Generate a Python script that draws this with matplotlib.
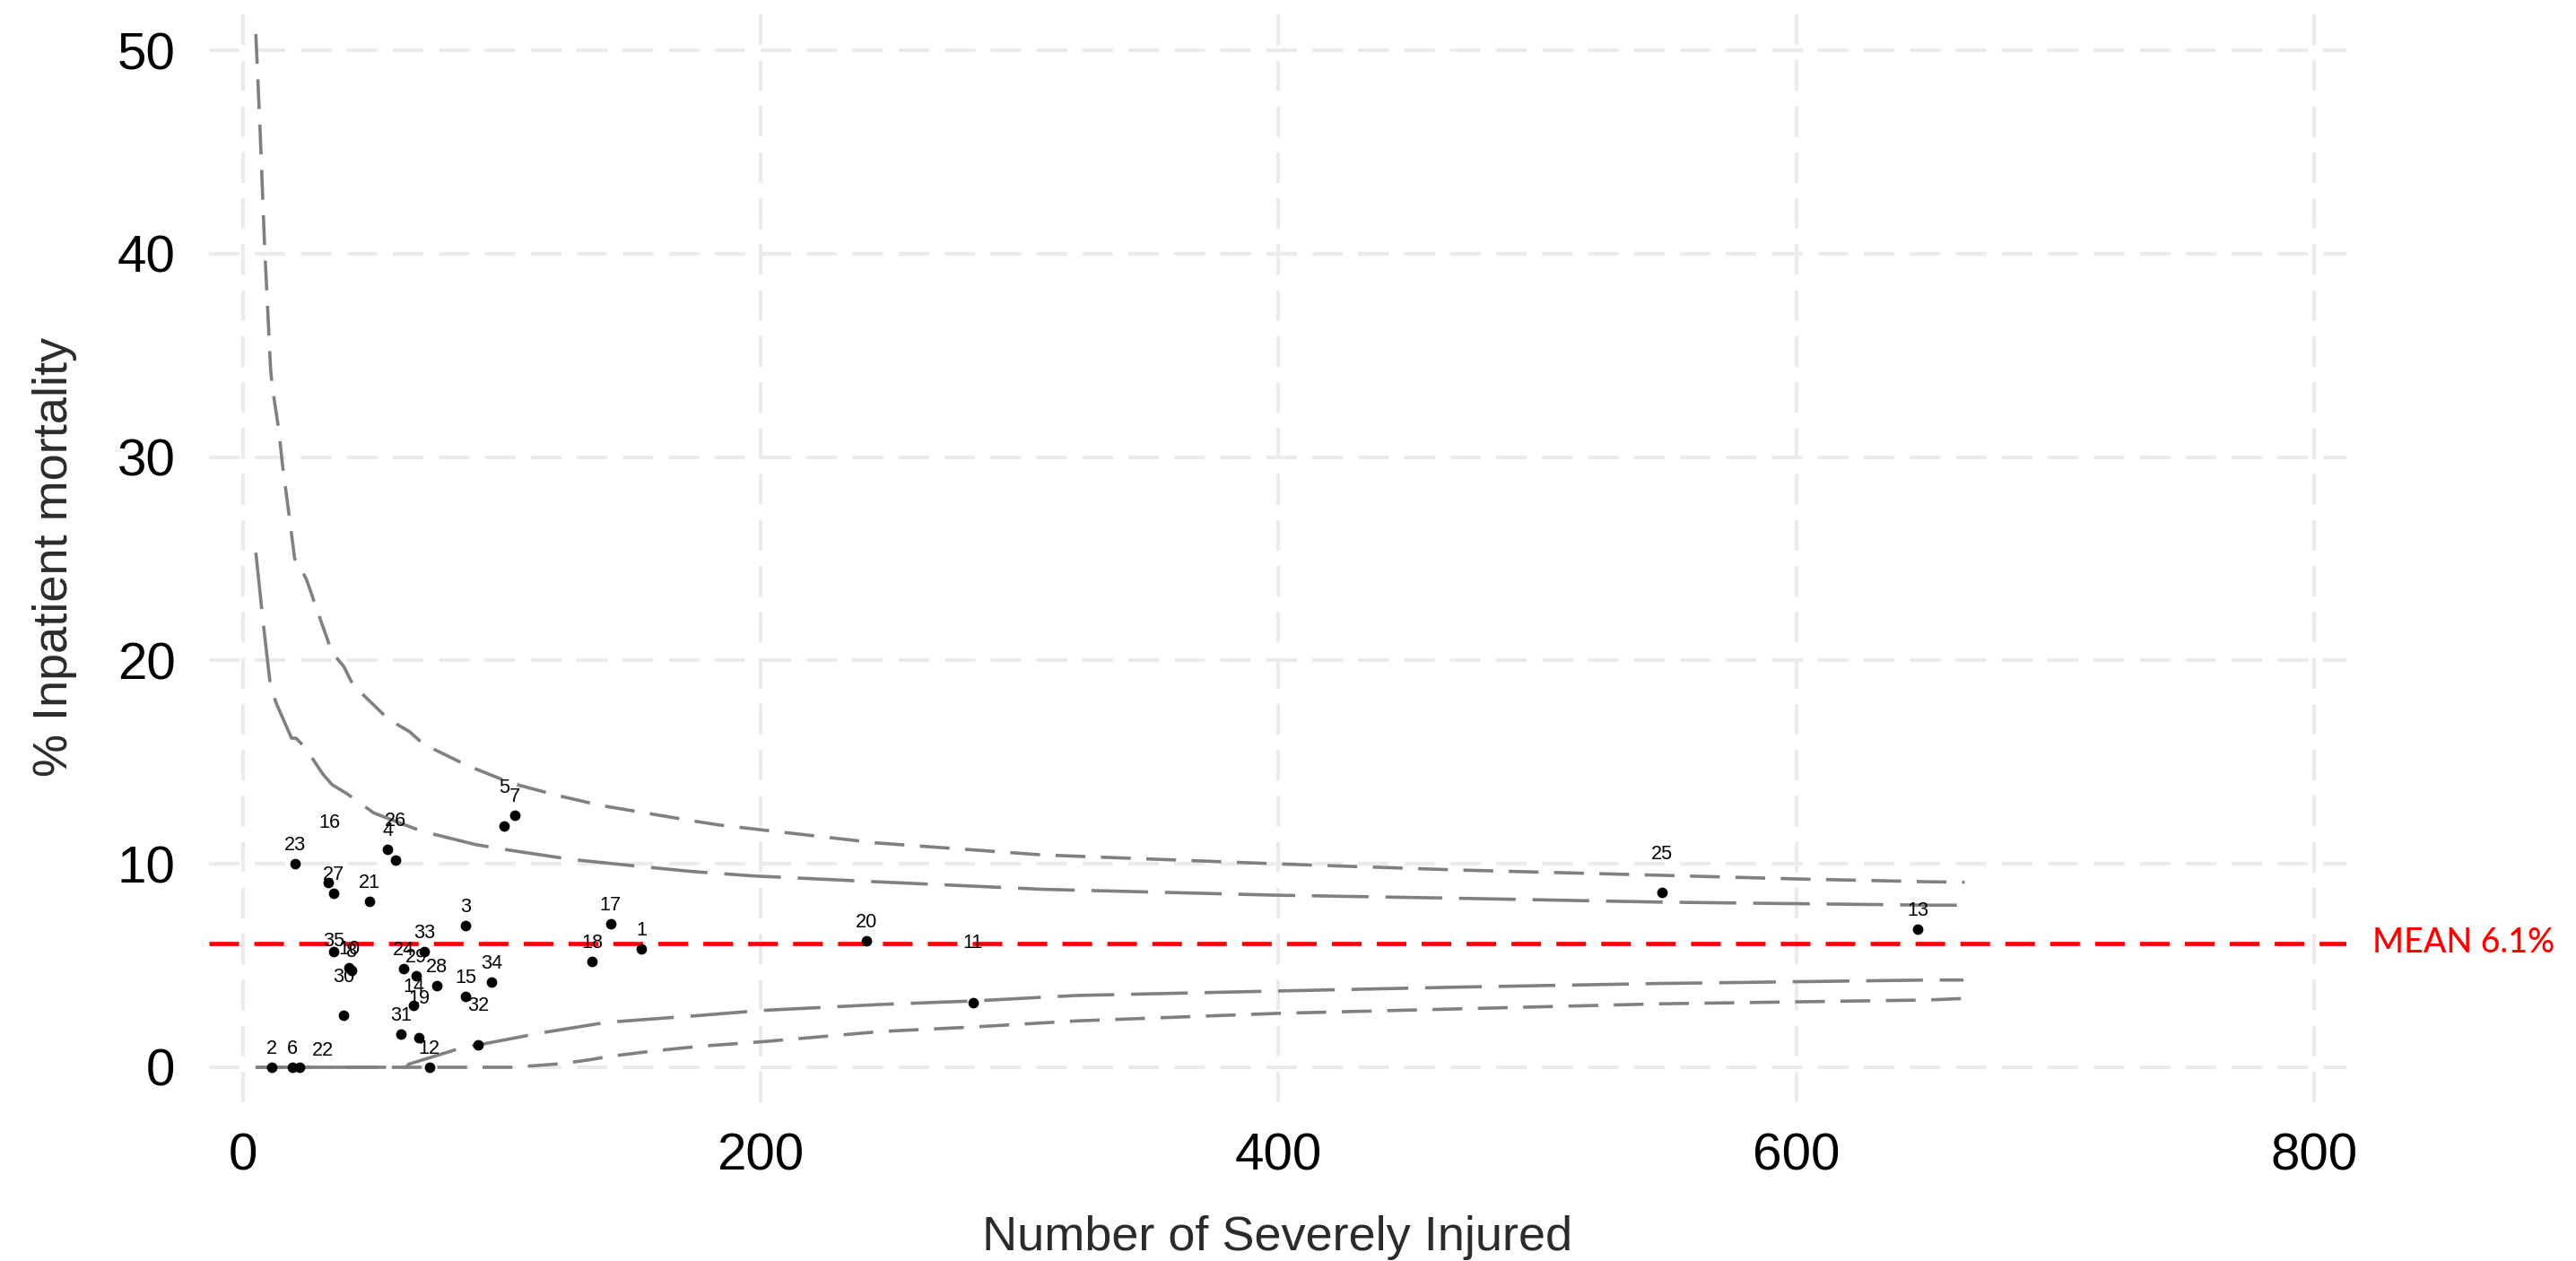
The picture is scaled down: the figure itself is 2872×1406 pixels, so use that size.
import matplotlib
matplotlib.use("Agg")
import matplotlib.pyplot as plt
import matplotlib.transforms as mtransforms

# hospitals: number of severely injured vs. inpatient mortality (%)
hospital = [1, 2, 3, 4, 5, 6, 7, 8, 10, 11, 12, 13, 14, 15, 16, 17, 18, 19,
            20, 21, 22, 23, 24, 25, 26, 27, 28, 29, 30, 31, 32, 33, 34, 35]
injured = [154, 11, 86, 56, 101, 19, 105, 42, 41, 282, 72, 647, 66, 86, 33, 142, 135, 68,
           241, 49, 22, 20, 62, 548, 59, 35, 75, 67, 39, 61, 91, 70, 96, 35]
mortality = [5.84, 0.0, 6.98, 10.71, 11.88, 0.0, 12.38, 4.76, 4.88, 3.19, 0.0, 6.80, 3.03, 3.49,
             9.09, 7.04, 5.19, 1.47, 6.22, 8.16, 0.0, 10.0, 4.84, 8.58, 10.17, 8.57, 4.0, 4.48,
             2.56, 1.64, 1.10, 5.71, 4.17, 5.71]
mean_mortality = 6.1

# funnel limits
upper_outer_x = [5, 6.7, 8.4, 9.6, 10.7, 11.3, 13.9, 15.3, 18.2, 20.0, 21.1, 24.6, 28.6, 34.4,
                 39.0, 42.5, 56.3, 64.4, 69.6, 86.4, 103.7, 121, 138.3, 155.7, 173, 184,
                 244.8, 308.9, 399.6, 469.1, 547.6, 599.8, 651.1, 665]
upper_outer_y = [50.8, 45.9, 40.3, 37.2, 34.3, 33.5, 31.3, 29.6, 26.8, 25.0, 24.85, 23.97, 22.5,
                 20.4, 19.7, 18.8, 17.1, 16.5, 15.9, 14.85, 13.97, 13.38, 12.87, 12.5, 12.13,
                 11.91, 11.03, 10.44, 10.0, 9.70, 9.44, 9.26, 9.12, 9.1]
upper_inner_x = [5, 7.8, 10.7, 13.0, 18.8, 20.5, 24.0, 30.9, 34.4, 40.2, 50.6, 69.0, 89.8,
                 103.7, 126.8, 149.9, 173, 196.8, 244.8, 308.9, 399.6, 469.1, 547.6, 651.1, 664]
upper_inner_y = [25.3, 21.9, 18.67, 17.86, 16.18, 16.18, 15.73, 14.41, 13.9, 13.45, 12.5,
                 11.61, 10.95, 10.66, 10.22, 9.92, 9.63, 9.41, 9.12, 8.75, 8.46, 8.31, 8.12,
                 7.97, 7.97]
lower_inner_x = [5, 63, 64, 86.4, 91.0, 115.2, 140.6, 174.7, 200, 246.7, 282, 322, 399.6,
                 469.1, 547.6, 651.1, 664.6]
lower_inner_y = [0, 0, 0.15, 1.03, 1.1, 1.69, 2.21, 2.53, 2.79, 3.09, 3.26, 3.53, 3.75, 3.94,
                 4.12, 4.29, 4.29]
lower_outer_x = [5, 104, 111.8, 123.3, 134, 140.7, 159.1, 176.4, 200, 246.7, 282, 322, 399.6,
                 469.1, 547.6, 651.1, 664]
lower_outer_y = [0, 0, 0.07, 0.18, 0.37, 0.52, 0.81, 1.03, 1.25, 1.76, 1.98, 2.28, 2.65, 2.87,
                 3.12, 3.31, 3.38]

x_ticks = [0, 200, 400, 600, 800]
y_ticks = [0, 10, 20, 30, 40, 50]

DPI = 200
px = 72 / DPI  # pixels -> points

# labels that were pushed off their point: hospital -> (dx, lift) in pixels
label_shift = {16: (1, 61), 22: (26, 13), 26: (0, 38), 35: (0, 6), 30: (0, 37),
               19: (0, 38), 32: (0, 38), 5: (0, 37), 11: (0, 61), 25: (0, 37)}

plt.rcParams['font.family'] = ['Liberation Sans', 'DejaVu Sans']

fig = plt.figure(figsize=(2872 / DPI, 1406 / DPI), dpi=DPI)
ax = fig.add_axes([233 / 2872, 1 - 1229 / 1406, (2616 - 233) / 2872, (1229 - 13) / 1406])

ax.set_xlim(-13.1, 812.5)
ax.set_ylim(-1.72, 51.9)
ax.set_xticks(x_ticks)
ax.set_yticks(y_ticks)
for s in ax.spines.values():
    s.set_visible(False)
ax.tick_params(length=0, labelsize=21, colors='black')
ax.tick_params(axis='y', pad=13.5)
ax.tick_params(axis='x', pad=12)
ax.grid(True, color='#EBEBEB', linewidth=1.5, linestyle=(0, (8.2, 4.1)))
ax.set_axisbelow(True)

grey = '#808080'
ax.plot(upper_outer_x, upper_outer_y, color=grey, lw=1.3, linestyle=(0, (9.2, 4.8)))
ax.plot(lower_outer_x, lower_outer_y, color=grey, lw=1.3, linestyle=(0, (9.2, 4.8)))
ax.plot(upper_inner_x, upper_inner_y, color=grey, lw=1.3, linestyle=(0, (17.5, 5.2)))
ax.plot(lower_inner_x, lower_inner_y, color=grey, lw=1.3, linestyle=(0, (17.5, 5.2)))

ax.axhline(mean_mortality, color='#FF0000', lw=1.7, linestyle=(0, (7, 3.6)), zorder=3)
ax.annotate(f'MEAN {mean_mortality}%', xy=(1, mean_mortality),
            xycoords=mtransforms.blended_transform_factory(ax.transAxes, ax.transData),
            xytext=(29 * px, 0), textcoords='offset points', ha='left', va='center',
            color='#FF0000', fontsize=13.5, fontweight='medium',
            family=['Lato', 'DejaVu Sans'], annotation_clip=False)

ax.scatter(injured, mortality, s=18, color='black', zorder=4, linewidths=0)
for h, xv, yv in zip(hospital, injured, mortality):
    dx, lift = label_shift.get(h, (0, 15))
    ax.annotate(str(h), (xv, yv), xytext=(dx * px, lift * px), textcoords='offset points',
                ha='center', va='baseline', fontsize=7.8, color='black', zorder=5)

ax.set_xlabel('Number of Severely Injured', fontsize=19.5, color='#2b2b2b', labelpad=14)
ax.set_ylabel('% Inpatient mortality', fontsize=19.5, color='#2b2b2b', labelpad=16)

fig.savefig('out.png', dpi=DPI)
